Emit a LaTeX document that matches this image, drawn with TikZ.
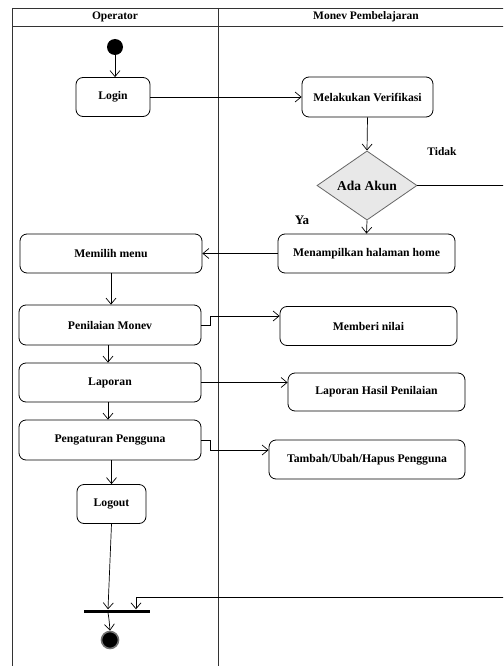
\documentclass[tikz,border=0pt]{standalone}
\usepackage{fontspec}
\setmainfont{Liberation Serif}
\usetikzlibrary{arrows.meta,shapes.geometric}
\begin{document}
\begin{tikzpicture}[x=1pt,y=-1pt,
  frame/.style={draw=black!80, line width=0.9pt},
  act/.style={draw, rounded corners=7pt, line width=0.8pt, inner sep=0pt,
    font=\bfseries\fontsize{11.7}{13}\selectfont, align=center},
  lanehead/.style={font=\bfseries\fontsize{11.5}{13}\selectfont},
  flow/.style={draw, line width=0.7pt, -{Straight Barb[length=6pt,width=10pt,line width=0.7pt]}},
  lbl/.style={font=\bfseries\fontsize{11.5}{13}\selectfont}
]
\clip (0,0) rectangle (503,666);
\fill[white] (0,0) rectangle (503,666);
% swimlane frame
\draw[frame] (12,8) -- (530,8);
\draw[frame] (12,26) -- (530,26);
\draw[frame] (12,8) -- (12,690);
\draw[frame] (218,8) -- (218,690);
\node[lanehead] (hop) at (115,17) {Operator};
\node[lanehead] (hmp) at (366,17) {Monev Pembelajaran};

% nodes
\node[circle, fill=black, minimum size=16pt, inner sep=0pt] (start) at (115,47) {};
\node[act, minimum width=74pt, minimum height=39pt] (login) at (113,97) {Login};
\node[act, minimum width=131pt, minimum height=40pt] (verif) at (367.5,97) {Melakukan Verifikasi};
\node[diamond, draw=black!60, fill=black!9, line width=0.8pt, inner sep=0pt,
      minimum width=100pt, minimum height=53pt,
      font=\bfseries\fontsize{13.5}{15}\selectfont] (dec) at (367,185.5) {Ada Akun};
\node[act, minimum width=177pt, minimum height=39pt] (home) at (366.5,253.5) {Menampilkan halaman home};
\node[act, minimum width=182pt, minimum height=39pt] (menu) at (111,253.5) {Memilih menu};
\node[act, minimum width=182pt, minimum height=40pt] (penilaian) at (110,325) {Penilaian Monev};
\node[act, minimum width=177pt, minimum height=39pt] (memberi) at (368.5,326) {Memberi nilai};
\node[act, minimum width=182pt, minimum height=39pt] (laporan) at (110,382.5) {Laporan};
\node[act, minimum width=177pt, minimum height=38pt] (hasil) at (376.5,392) {Laporan Hasil Penilaian};
\node[act, minimum width=182pt, minimum height=40pt] (atur) at (110,440) {Pengaturan Pengguna};
\node[act, minimum width=196pt, minimum height=39pt] (tambah) at (367,459.5) {Tambah/Ubah/Hapus Pengguna};
\node[act, minimum width=69pt, minimum height=39pt] (logout) at (111.5,504) {Logout};
\node[rectangle, fill=black, minimum width=66pt, minimum height=3pt, inner sep=0pt] (bar) at (117,611) {};
\node[circle, fill=black, draw=black!55, line width=1.6pt, minimum size=17pt, inner sep=0pt] (end) at (110,640) {};

\node[lbl] (tidak) at (442,152) {Tidak};
\node[lbl, font=\bfseries\fontsize{13}{15}\selectfont] (ya) at (302,220) {Ya};

\coordinate (tidakR) at (530,597);

% connectors
\draw[flow] (start.south) -- (start.south |- login.north);
\draw[flow] (login.east) -- (verif.west);
\draw[flow] (verif.south) -- (dec.north);
\draw[flow] (dec.south) -- (home.north);
\draw[flow] (home.west) -- (menu.east);
\draw[flow] (menu.south) -- (menu.south |- penilaian.north);
\draw[flow] (penilaian.east) -- ++(9,0) |- ([yshift=10pt]memberi.west);
\draw[flow] ([xshift=-2pt]penilaian.south) -- ([xshift=-2pt]laporan.north);
\draw[flow] (laporan.east) -- (laporan.east -| hasil.west);
\draw[flow] ([xshift=-2pt]laporan.south) -- ([xshift=-2pt]atur.north);
\draw[flow] (atur.east) -- ++(9,0) |- ([yshift=9.5pt]tambah.west);
\draw[flow] (atur.south -| logout.south) -- (logout.north);
\draw[flow] (logout.south) -- ([xshift=-9pt]bar.north);
\draw[flow] (dec.east) -| (tidakR) -| ([xshift=19pt]bar.north);
\draw[flow] ([xshift=-9pt]bar.south) to[out=-80,in=95] (end.north);
\end{tikzpicture}
\end{document}
